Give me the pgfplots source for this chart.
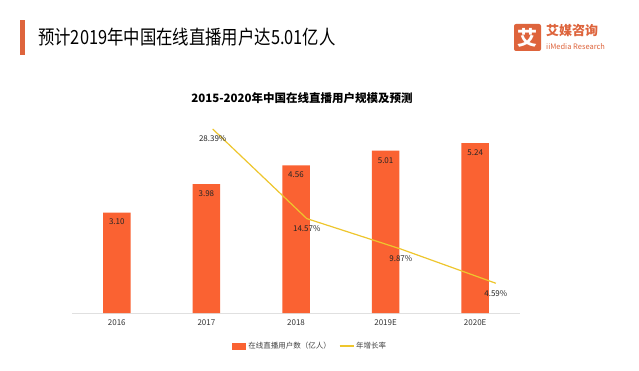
\documentclass[border=0pt]{standalone}
\usepackage{fontspec}
\setmainfont{Noto Sans CJK SC}
\usepackage{pgfplots}
\pgfplotsset{compat=1.18}
\definecolor{barc}{RGB}{250,98,50}
\definecolor{linec}{RGB}{238,198,45}
\definecolor{accent}{RGB}{222,100,60}
\begin{document}
\begin{tikzpicture}[x=1pt,y=1pt]
\useasboundingbox[fill=white] (0,0) rectangle (639,370);
% title bar
\fill[accent] (20,370-55) rectangle (25,370-20);
\node[anchor=west, inner sep=0pt, font=\fontsize{19.5}{20}\selectfont] at (38,370-37) {\scalebox{0.84}[1]{预计2019年中国在线直播用户达5.01亿人}};
% logo
\fill[accent, rounded corners=2pt] (514,370-51) rectangle (541,370-24);
\node[white, font=\fontsize{20}{20}\selectfont\bfseries] at (527.5,370-37.5) {艾};
\node[accent, anchor=west, inner sep=0pt, font=\fontsize{13}{13}\selectfont\bfseries] at (546,370-31) {艾媒咨询};
\node[accent, anchor=west, inner sep=0pt, font=\fontsize{7.5}{7.5}\selectfont] at (546,370-47) {iiMedia Research};
% subtitle
\node[font=\fontsize{11.5}{12}\selectfont\bfseries] at (302,370-98) {2015-2020年中国在线直播用户规模及预测};

\begin{axis}[
  at={(72pt,57pt)}, anchor=south west, scale only axis, width=448pt, height=194.4pt,
  xmin=-0.5, xmax=4.5, ymin=0, ymax=6,
  axis x line*=bottom, axis y line=none,
  x axis line style={draw=black!12, -},
  xtick={0,...,4}, xticklabels={2016,2017,2018,2019E,2020E}, major tick length=0,
  xticklabel style={font=\fontsize{8}{8}\selectfont, text=black!80, yshift=-3pt},
  ybar, bar width=27.5pt,
  /pgf/number format/assume math mode=true,
  nodes near coords={\pgfmathprintnumber[fixed,fixed zerofill,precision=2]{\pgfplotspointmeta}},
  nodes near coords align={below},
  every node near coord/.append style={font=\fontsize{8}{8}\selectfont, text=black!85, yshift=-3pt},
  legend style={at={(0.532,-0.17)}, anchor=center, legend columns=2, draw=none, fill=none,
    font=\fontsize{7.5}{8}\selectfont, text=black!75,
    /tikz/every even column/.append style={column sep=6pt}},
]
\addplot[fill=barc, draw=none, legend image code/.code={\fill[barc] (0pt,-3.5pt) rectangle (14pt,3.5pt);}]
  coordinates {(0,3.10) (1,3.98) (2,4.56) (3,5.01) (4,5.24)};
\addlegendentry{在线直播用户数（亿人）}
\addlegendimage{linec, line width=1.2pt, legend image code/.code={\draw[linec, line width=1.2pt] (0pt,0pt) -- (14pt,0pt);}}
\addlegendentry{年增长率}
\end{axis}

\begin{axis}[
  at={(72pt,57pt)}, anchor=south west, scale only axis, width=448pt, height=194.4pt,
  xmin=-0.5, xmax=4.5, ymin=0, ymax=30, hide axis, clip=false,
  /pgf/number format/assume math mode=true,
]
\addplot[linec, line width=1.2pt,
  nodes near coords={\pgfmathprintnumber[fixed,fixed zerofill,precision=2]{\pgfplotspointmeta}\%},
  nodes near coords align={below},
  every node near coord/.append style={font=\fontsize{8}{8}\selectfont, text=black!85, yshift=-3pt}]
  coordinates {(1.07,28.39) (2.12,14.57) (3.17,9.87) (4.23,4.59)};
\end{axis}
\end{tikzpicture}
\end{document}
